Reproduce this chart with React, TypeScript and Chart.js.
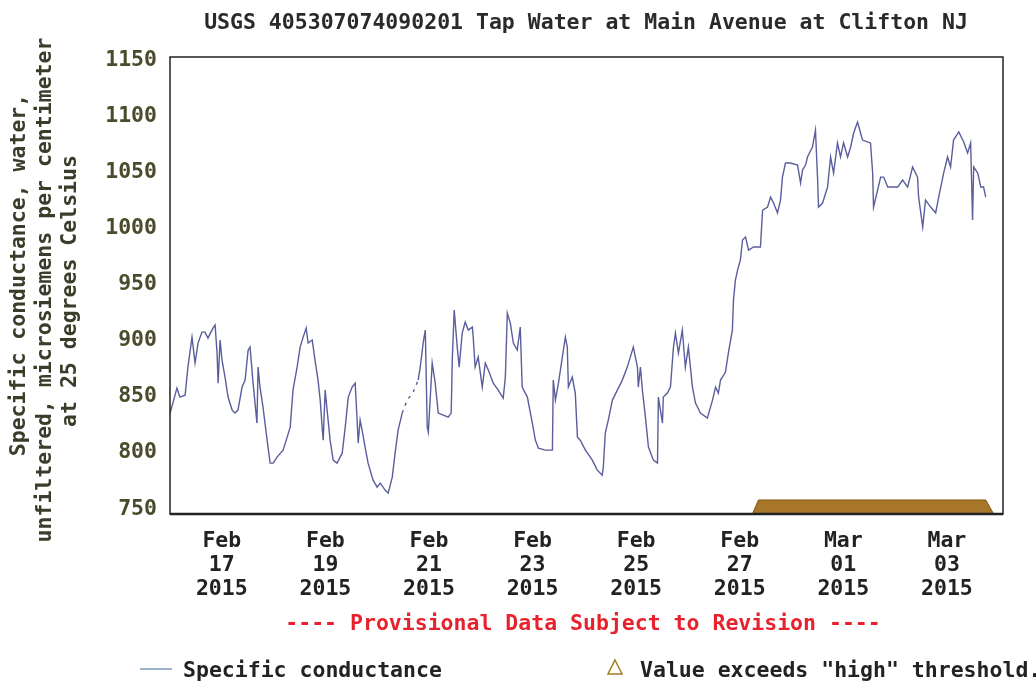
import React, { useEffect, useRef } from "react";
import { Chart, registerables } from "chart.js";

Chart.register(...registerables);

// Hours since 2015-02-16 00:00
const hours = [
  0, 3.2, 4.6, 7.0, 8.3, 10.2, 11.6, 13.0, 14.8, 16.2, 17.6, 19.9, 20.9, 21.8, 22.3, 23.2, 24.1, 25.5, 26.9, 28.8,
  30.1, 31.5, 33.4, 34.8, 36.2, 37.1, 38.5, 40.3, 40.8, 41.7, 43.1, 45.0, 46.4, 47.8, 49.6, 52.4, 54.3, 55.7, 57.0, 58.9,
  60.3, 61.7, 63.1, 64.0, 65.9, 67.2, 68.6, 69.6, 70.5, 71.0, 71.9, 72.8, 74.2, 75.6, 77.4, 79.8, 81.2, 82.6, 84.4, 85.8,
  86.7, 87.2, 88.1, 89.0, 90.4, 91.8, 94.1, 96.0, 97.4, 99.7, 101.1, 103.0, 104.3, 105.7, 107.6, 109.9, 112.7, 115.0, 115.9, 117.3,
  118.3, 119.2, 119.7, 121.5, 122.9, 124.3, 126.6, 128.9, 130.3, 130.8, 131.7, 133.1, 134.0, 135.4, 136.8, 138.2, 140.1, 140.5, 141.4, 142.8,
  144.7, 146.1, 147.5, 149.8, 152.1, 154.4, 155.4, 156.3, 157.7, 159.1, 160.9, 162.3, 163.2, 165.6, 167.9, 169.3, 170.7, 173.9, 177.2, 177.6,
  178.6, 180.0, 181.8, 183.2, 184.1, 184.6, 186.4, 187.8, 188.8, 190.1, 192.5, 195.7, 198.0, 200.3, 200.8, 201.7, 203.1, 205.0, 207.3, 209.6,
  211.9, 213.3, 214.7, 216.6, 217.0, 218.0, 218.9, 220.3, 221.7, 224.0, 225.9, 226.3, 228.2, 228.6, 230.5, 231.9, 233.3, 234.2, 235.6, 237.4,
  238.8, 240.2, 242.1, 243.5, 245.8, 249.0, 251.4, 252.8, 254.1, 255.1, 257.4, 258.8, 260.6, 261.1, 262.0, 263.0, 264.3, 265.3, 266.7, 268.1,
  270.4, 273.6, 274.6, 276.9, 278.3, 279.7, 281.5, 282.9, 283.8, 285.2, 287.5, 290.8, 292.2, 293.1, 294.5, 295.4, 297.7, 299.1, 300.1, 300.5,
  302.4, 304.7, 306.1, 307.5, 309.3, 310.7, 312.1, 314.0, 315.4, 316.8, 318.6, 320.0, 320.9, 323.2, 324.6, 325.6, 326.0, 327.9, 329.3, 330.7,
  332.6, 334.9, 337.2, 339.5, 341.8, 344.1, 346.4, 346.9, 348.8, 350.1, 352.5, 354.8, 356.2, 358.5, 360.3, 361.7, 363.1, 365.5, 367.8, 369.6,
  371.0, 371.9, 372.4, 374.3, 375.7, 377.0, 378.0,
];

// Specific conductance, microsiemens per centimeter
const conductance = [
  835, 857.7, 849.7, 851.4, 876.4, 903.1, 880.0, 897.8, 907.6, 907.6, 902.2, 911.1, 913.8, 888.9, 862.1, 900.5, 882.6, 867.5, 849.7, 838.1,
  835.4, 838.1, 858.6, 864.8, 891.5, 894.2, 862.1, 826.5, 876.4, 858.6, 840.7, 811.3, 790.8, 790.8, 796.2, 802.4, 814.0, 822.9, 855.9, 876.4,
  894.2, 903.1, 911.1, 897.8, 900.5, 882.6, 864.8, 847.0, 822.9, 811.3, 855.9, 838.1, 811.3, 793.5, 790.8, 799.7, 822.9, 849.7, 858.6, 862.1,
  829.2, 808.7, 829.2, 820.2, 805.1, 790.8, 775.7, 769.4, 773.0, 766.8, 764.1, 778.3, 799.7, 820.2, 835.4, 847.0, 854.1, 864.8, 875.5, 897.8,
  909.4, 822.9, 818.5, 880.0, 862.1, 835.4, 833.6, 831.8, 835.4, 882.6, 927.2, 894.2, 876.4, 906.7, 916.5, 909.4, 912.0, 903.1, 876.4, 885.3,
  858.6, 880.0, 873.7, 862.1, 855.9, 848.8, 867.5, 924.5, 915.6, 897.8, 891.5, 912.0, 858.6, 849.7, 826.5, 811.3, 804.2, 802.4, 802.4, 864.8,
  847.0, 862.1, 885.3, 903.1, 894.2, 858.6, 867.5, 853.2, 814.0, 811.3, 802.4, 793.5, 784.6, 780.1, 787.2, 817.6, 829.2, 847.0, 855.9, 864.8,
  876.4, 885.3, 894.2, 876.4, 858.6, 876.4, 855.9, 831.8, 805.1, 793.5, 790.8, 849.7, 826.5, 849.7, 853.2, 858.6, 894.2, 906.7, 888.9, 909.4,
  876.4, 894.2, 858.6, 844.3, 835.4, 830.9, 847.0, 858.6, 853.2, 864.8, 872.0, 889.8, 909.4, 936.1, 953.9, 962.8, 971.8, 989.6, 992.3, 980.7,
  983.4, 983.4, 1016.3, 1019.0, 1027.9, 1022.6, 1013.7, 1025.2, 1045.7, 1058.2, 1058.2, 1056.4, 1040.4, 1052.0, 1056.4, 1063.6, 1072.5, 1087.6, 1043.1, 1019.0,
  1022.6, 1036.8, 1063.6, 1049.3, 1076.1, 1063.6, 1076.1, 1063.6, 1072.5, 1085.0, 1094.8, 1085.0, 1078.7, 1077.0, 1076.1, 1049.3, 1019.0, 1034.2, 1045.7, 1045.7,
  1036.8, 1036.8, 1036.8, 1043.1, 1036.8, 1054.7, 1045.7, 1027.9, 1001.2, 1025.2, 1019.0, 1013.7, 1027.9, 1049.3, 1063.6, 1054.7, 1078.7, 1085.9, 1077.0, 1067.1,
  1076.1, 1007.4, 1054.7, 1049.3, 1036.8, 1036.8, 1027.9,
];

// "high" threshold exceedance band
const thresholdHours = [269.9, 272.7, 378.0, 381.7];
const thresholdValues = [745.5, 758, 758, 745.5];

const xTickHours = [24, 72, 120, 168, 216, 264, 312, 360];
const xTickLabels = [
  ["Feb", "17", "2015"],
  ["Feb", "19", "2015"],
  ["Feb", "21", "2015"],
  ["Feb", "23", "2015"],
  ["Feb", "25", "2015"],
  ["Feb", "27", "2015"],
  ["Mar", "01", "2015"],
  ["Mar", "03", "2015"],
];
const yTickValues = [750, 800, 850, 900, 950, 1000, 1050, 1100, 1150];

const titleText = "USGS 405307074090201 Tap Water at Main Avenue at Clifton NJ";
const yTitleLines = [
  "Specific conductance, water,",
  "unfiltered, microsiemens per centimeter",
  "at 25 degrees Celsius",
];
const provisionalText = "---- Provisional Data Subject to Revision ----";
const legendSeries = "Specific conductance";
const legendThreshold = 'Value exceeds "high" threshold.';

const FAMILY = "'DejaVu Sans Mono', monospace";
const FS = 21.5;

export default function App() {
  const ref = useRef<HTMLCanvasElement | null>(null);

  useEffect(() => {
    const canvas = ref.current;
    if (!canvas) return;

    const framePlugin = {
      id: "frame",
      afterDatasetsDraw(chart: any) {
        const { ctx, chartArea: a } = chart;
        ctx.save();
        ctx.strokeStyle = "#222";
        ctx.lineWidth = 1.5;
        ctx.strokeRect(a.left, a.top, a.right - a.left, a.bottom - a.top);
        ctx.lineWidth = 2.5;
        ctx.beginPath();
        ctx.moveTo(a.left, a.bottom);
        ctx.lineTo(a.right, a.bottom);
        ctx.stroke();
        ctx.restore();
      },
    };

    const textPlugin = {
      id: "texts",
      afterDraw(chart: any) {
        const { ctx } = chart;
        ctx.save();
        ctx.font = `bold ${FS}px ${FAMILY}`;
        ctx.textBaseline = "middle";
        // title
        ctx.fillStyle = "#2a2a2a";
        ctx.textAlign = "center";
        ctx.fillText(titleText, 586, 23);
        // y axis title
        const ys = [
          { x: 19, y: 275 },
          { x: 45, y: 290 },
          { x: 70, y: 291 },
        ];
        ctx.fillStyle = "#3c3c2a";
        yTitleLines.forEach((t, i) => {
          ctx.save();
          ctx.translate(ys[i].x, ys[i].y);
          ctx.rotate(-Math.PI / 2);
          ctx.fillText(t, 0, 0);
          ctx.restore();
        });
        // provisional
        ctx.fillStyle = "#e8222c";
        ctx.fillText(provisionalText, 583, 624);
        // legend
        ctx.strokeStyle = "#7d97b8";
        ctx.lineWidth = 1.5;
        ctx.beginPath();
        ctx.moveTo(140, 669);
        ctx.lineTo(172, 669);
        ctx.stroke();
        ctx.textAlign = "left";
        ctx.fillStyle = "#222";
        ctx.fillText(legendSeries, 183, 671);
        ctx.strokeStyle = "#a07d1e";
        ctx.lineWidth = 1.5;
        ctx.beginPath();
        ctx.moveTo(615, 660);
        ctx.lineTo(622, 674);
        ctx.lineTo(608, 674);
        ctx.closePath();
        ctx.stroke();
        ctx.fillStyle = "#222";
        ctx.fillText(legendThreshold, 640, 671);
        ctx.restore();
      },
    };

    const chart = new Chart(canvas, {
      type: "line",
      data: {
        datasets: [
          {
            data: hours.map((h, i) => ({ x: h, y: conductance[i] })),
            borderColor: "#5a5e9c",
            borderWidth: 1.4,
            pointRadius: 0,
            tension: 0,
            fill: false,
            order: 1,
            segment: {
              borderDash: (c: any) =>
                c.p0.parsed.x >= 107 && c.p1.parsed.x <= 115.5 ? [3, 5] : undefined,
            },
          } as any,
          {
            data: thresholdHours.map((h, i) => ({ x: h, y: thresholdValues[i] })),
            borderColor: "#7e5510",
            backgroundColor: "#a8762a",
            borderWidth: 1,
            pointRadius: 0,
            tension: 0,
            fill: "start",
            order: 2,
          } as any,
        ],
      },
      options: {
        responsive: false,
        animation: false,
        layout: { padding: { left: 0, right: 33, top: 57, bottom: 0 } },
        plugins: {
          legend: { display: false },
          tooltip: { enabled: false },
          title: { display: false },
        },
        scales: {
          x: {
            type: "linear",
            min: 0,
            max: 386,
            grid: { display: false, drawTicks: false },
            border: { display: false },
            afterBuildTicks: (s: any) => {
              s.ticks = xTickHours.map((v) => ({ value: v }));
            },
            afterFit: (s: any) => {
              s.height = 169;
            },
            ticks: {
              autoSkip: false,
              maxRotation: 0,
              padding: 15,
              color: "#222",
              font: { family: FAMILY, size: FS, weight: "bold", lineHeight: 24 / FS },
              callback: (v: any) => xTickLabels[xTickHours.indexOf(Number(v))] ?? "",
            },
          },
          y: {
            type: "linear",
            min: 745.5,
            max: 1152.7,
            grid: { display: false, drawTicks: false },
            border: { display: false },
            afterBuildTicks: (s: any) => {
              s.ticks = yTickValues.map((v) => ({ value: v }));
            },
            afterFit: (s: any) => {
              s.width = 170;
            },
            ticks: {
              autoSkip: false,
              padding: 13,
              color: "#4a4a2c",
              font: { family: FAMILY, size: FS, weight: "bold" },
              callback: (v: any) => String(v),
            },
          },
        },
      } as any,
      plugins: [framePlugin, textPlugin],
    });

    return () => chart.destroy();
  }, []);

  return (
    <div style={{ position: "fixed", left: 0, top: 0, width: 1036, height: 683, background: "#fff" }}>
      <canvas ref={ref} width={1036} height={683} style={{ width: 1036, height: 683, display: "block" }} />
    </div>
  );
}
